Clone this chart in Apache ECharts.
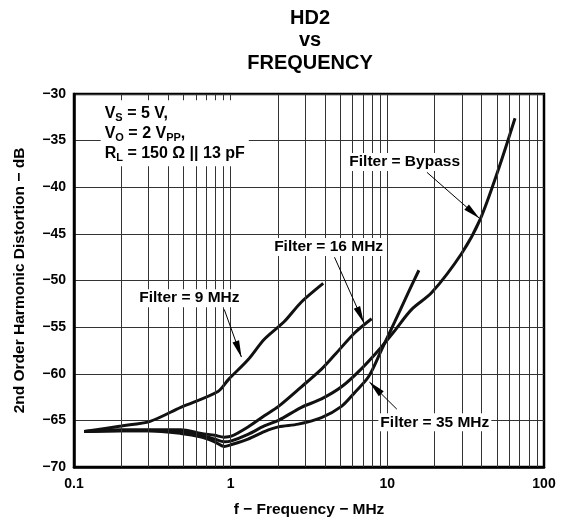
<!DOCTYPE html>
<html>
<head>
<meta charset="utf-8">
<script src="https://cdn.jsdelivr.net/npm/echarts@6/dist/echarts.min.js"></script>
<style>
  html, body { margin: 0; padding: 0; background: #fff; }
  #chart { width: 561px; height: 523px; }
</style>
</head>
<body>
<div id="chart"></div>
<script>
// HD2 vs frequency, four filter settings
const yTicks = [-70, -65, -60, -55, -50, -45, -40, -35, -30];
const xTicks = [0.1, 1, 10, 100];
// vertical grid lines (1..9 per decade)
const gridFreqs = [0.2, 0.3, 0.4, 0.5, 0.6, 0.7, 0.8, 0.9, 1,
  2, 3, 4, 5, 6, 7, 8, 9, 10,
  20, 30, 40, 50, 60, 70, 80, 90];

// Filter = 9 MHz
const freq9 = [0.116, 0.2, 0.306, 0.48, 0.83, 0.97, 1.29, 1.64, 2.2, 2.83, 3.9];
const hd9 = [-66.2, -65.6, -65.1, -63.6, -61.9, -60.6, -58.5, -56.3, -54.4, -52.3, -50.3];

// Filter = 16 MHz
const freq16 = [0.116, 0.2, 0.3, 0.48, 0.65, 0.79, 0.91, 1.01, 1.29, 1.64, 2.02, 2.83, 3.8, 4.6, 6.2, 7.94];
const hd16 = [-66.2, -66.0, -66.0, -66.0, -66.4, -66.6, -66.8, -66.7, -65.7, -64.5, -63.5, -61.4, -59.5, -58.0, -55.6, -54.1];

// Filter = Bypass
const freqByp = [0.116, 0.2, 0.3, 0.48, 0.65, 0.79, 0.91, 1.01, 1.29, 1.64, 2.02, 2.83, 3.8, 5.1, 6.8, 9.2, 11.0, 14.3, 19.2, 29.8, 39, 51.6, 65.3];
const hdByp = [-66.2, -66.1, -66.1, -66.2, -66.6, -67.0, -67.3, -67.2, -66.5, -65.6, -65.0, -63.6, -62.7, -61.4, -59.5, -57.1, -55.5, -53.1, -51.3, -47.1, -43.5, -37.9, -32.6];

// Filter = 35 MHz
const freq35 = [0.116, 0.2, 0.3, 0.48, 0.65, 0.79, 0.91, 1.01, 1.29, 1.64, 2.02, 2.7, 3.8, 5.1, 6.2, 7.6, 9.2, 11.1, 13.6, 15.9];
const hd35 = [-66.2, -66.1, -66.1, -66.4, -66.8, -67.3, -67.8, -67.6, -67.0, -66.2, -65.7, -65.4, -64.7, -63.5, -62.0, -60.3, -57.4, -54.5, -51.3, -48.9];

const pairs = (xs, ys) => xs.map((x, i) => [x, ys[i]]);
const minus = (v) => String(v).replace('-', '\u2212');
const FONT = 'Liberation Sans, Arial, sans-serif';

const labelStyle = {
  show: true,
  position: 'inside',
  color: '#000',
  fontFamily: FONT,
  fontWeight: 'bold',
  fontSize: 15.5,
  backgroundColor: '#fff',
  padding: [1, 2]
};

// annotation text and arrows (data coordinates)
const notes = [
  { text: 'Filter = 9 MHz', at: [0.545, -51.9], from: [0.91, -53.1], to: [1.17, -58.2] },
  { text: 'Filter = 16 MHz', at: [4.22, -46.4], from: [4.6, -47.5], to: [7.06, -54.5] },
  { text: 'Filter = Bypass', at: [12.9, -37.3], from: [17.9, -38.4], to: [38.5, -43.3] },
  { text: 'Filter = 35 MHz', at: [20.1, -65.2], from: [11.5, -63.8], to: [7.7, -60.9] }
];

const curve = (name, data) => ({
  name,
  type: 'line',
  data,
  smooth: 0.3,
  symbol: 'none',
  lineStyle: { color: '#111', width: 3 },
  z: 3,
  silent: true
});

const chart = echarts.init(document.getElementById('chart'), null, { renderer: 'canvas' });

const option = {
  backgroundColor: '#fff',
  animation: false,
  title: {
    text: 'HD2\nvs\nFREQUENCY',
    left: 305,
    top: 2,
    textAlign: 'center',
    textStyle: {
      fontFamily: FONT,
      fontWeight: 'bold',
      fontSize: 20,
      lineHeight: 22.5,
      color: '#000'
    }
  },
  grid: {
    left: 74,
    right: 17,
    top: 94,
    bottom: 56,
    show: true,
    borderColor: '#000',
    borderWidth: 2.5,
    backgroundColor: 'transparent'
  },
  xAxis: {
    type: 'log',
    logBase: 10,
    min: 0.1,
    max: 100,
    name: 'f \u2212 Frequency \u2212 MHz',
    nameLocation: 'middle',
    nameGap: 35,
    nameTextStyle: { fontFamily: FONT, fontWeight: 'bold', fontSize: 15.5, color: '#000' },
    axisLine: { show: true, lineStyle: { color: '#000', width: 2.5 } },
    axisTick: { show: false },
    splitLine: { show: false },
    axisLabel: {
      color: '#000',
      fontFamily: FONT,
      fontWeight: 'bold',
      fontSize: 14,
      margin: 10,
      formatter: (v) => (xTicks.some((t) => Math.abs(t - v) < 1e-9) ? String(v) : '')
    }
  },
  yAxis: {
    type: 'value',
    min: yTicks[0],
    max: yTicks[yTicks.length - 1],
    interval: 5,
    name: '2nd Order Harmonic Distortion \u2212 dB',
    nameLocation: 'middle',
    nameGap: 46,
    nameTextStyle: { fontFamily: FONT, fontWeight: 'bold', fontSize: 15.5, color: '#000' },
    axisLine: { show: true, lineStyle: { color: '#000', width: 2.5 } },
    axisTick: { show: false },
    splitLine: { show: true, lineStyle: { color: '#333', width: 1 } },
    axisLabel: {
      color: '#000',
      fontFamily: FONT,
      fontWeight: 'bold',
      fontSize: 14,
      margin: 8,
      formatter: minus
    }
  },
  series: [
    {
      name: 'grid',
      type: 'line',
      data: [],
      silent: true,
      z: 1,
      markLine: {
        silent: true,
        symbol: 'none',
        animation: false,
        label: { show: false },
        lineStyle: { color: '#333', width: 1, type: 'solid' },
        data: gridFreqs.map((f) => ({ xAxis: f }))
      }
    },
    curve('Filter = 9 MHz', pairs(freq9, hd9)),
    curve('Filter = 16 MHz', pairs(freq16, hd16)),
    curve('Filter = Bypass', pairs(freqByp, hdByp)),
    curve('Filter = 35 MHz', pairs(freq35, hd35)),
    {
      name: 'notes',
      type: 'line',
      data: [],
      silent: true,
      z: 5,
      markLine: {
        silent: true,
        animation: false,
        symbol: ['none', 'triangle'],
        label: { show: false },
        lineStyle: { color: '#000', width: 1, type: 'solid' },
        data: notes.map((n) => [
          { coord: n.from, symbol: 'none' },
          { coord: n.to, symbol: 'triangle', symbolSize: [7, 17], symbolOffset: [0, 8] }
        ])
      },
      markPoint: {
        silent: true,
        animation: false,
        symbol: 'rect',
        symbolSize: 0,
        itemStyle: { color: 'transparent' },
        data: notes.map((n) => ({
          coord: n.at,
          value: n.text,
          label: Object.assign({}, labelStyle, { formatter: n.text })
        })).concat([{
          coord: [0.148, -34.2],
          value: 'cond',
          label: {
            show: true,
            position: 'inside',
            align: 'left',
            verticalAlign: 'middle',
            backgroundColor: '#fff',
            padding: [3, 4],
            formatter: '{m|V}{s|S}{m| = 5 V,}\n{m|V}{s|O}{m| = 2 V}{s|PP}{m|,}\n{m|R}{s|L}{m| = 150 \u03A9 || 13 pF}',
            rich: {
              m: { fontFamily: FONT, fontWeight: 'bold', fontSize: 16, color: '#000', lineHeight: 20 },
              s: { fontFamily: FONT, fontWeight: 'bold', fontSize: 11, color: '#000', lineHeight: 20, verticalAlign: 'bottom', padding: [6, 0, 0, 0] }
            }
          }
        }])
      }
    }
  ]
};

chart.setOption(option);
</script>
</body>
</html>
